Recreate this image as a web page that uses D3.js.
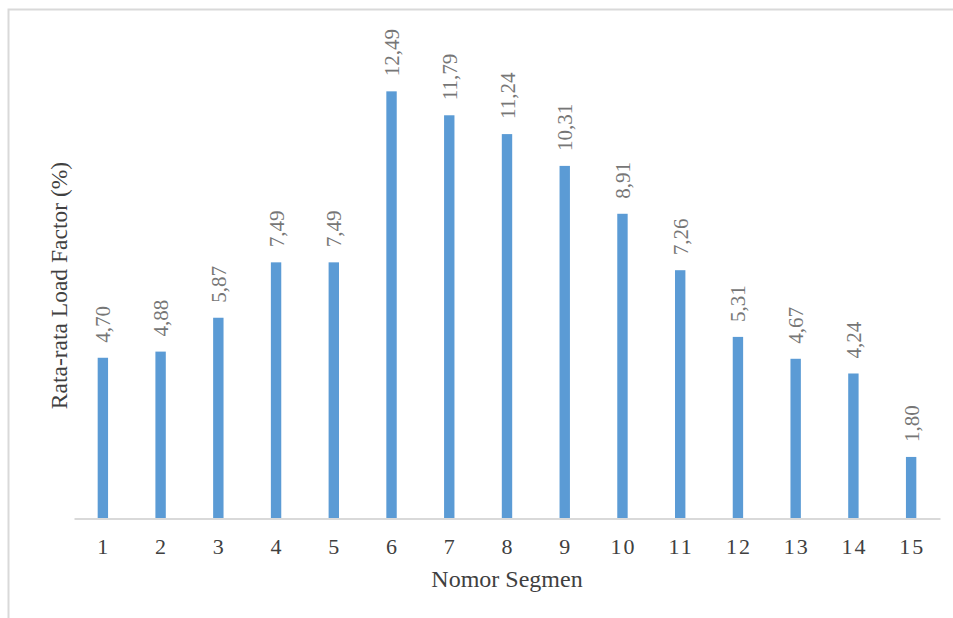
<!DOCTYPE html>
<html>
<head>
<meta charset="utf-8">
<script src="https://cdn.jsdelivr.net/npm/d3@7"></script>
<style>
  body { margin: 0; background: #fff; }
  text { font-family: "Liberation Serif", "Times New Roman", serif; }
</style>
</head>
<body>
<div id="chart"></div>
<script>
const segments = ['1', '2', '3', '4', '5', '6', '7', '8', '9', '10', '11', '12', '13', '14', '15'];
const loadFactor = [4.70, 4.88, 5.87, 7.49, 7.49, 12.49, 11.79, 11.24, 10.31, 8.91, 7.26, 5.31, 4.67, 4.24, 1.80];

const width = 953, height = 618;

const svg = d3.select('#chart').append('svg')
  .attr('width', width)
  .attr('height', height);

// chart frame (only top and left visible, picture is cropped)
svg.append('path')
  .attr('d', 'M8.5,' + height + ' V9.5 H' + width)
  .attr('fill', 'none')
  .attr('stroke', '#d9d9d9')
  .attr('stroke-width', 2);

const x = d3.scaleBand()
  .domain(segments)
  .range([74, 940])
  .paddingInner(0.82)
  .paddingOuter(0.41);

const y = d3.scaleLinear()
  .domain([0, 14])
  .range([518.5, 518.5 - 14 * 34.2]);

svg.append('g')
  .selectAll('rect')
  .data(loadFactor)
  .join('rect')
  .attr('x', (d, i) => x(segments[i]))
  .attr('y', d => y(d))
  .attr('width', x.bandwidth())
  .attr('height', d => y(0) - y(d))
  .attr('fill', '#5b9bd5');

// value labels, rotated
svg.append('g')
  .selectAll('text')
  .data(loadFactor)
  .join('text')
  .attr('transform', (d, i) => 'translate(' + (x(segments[i]) + x.bandwidth() / 2 + 7.5) + ',' + (y(d) - 15) + ') rotate(-90)')
  .attr('font-size', 21)
  .attr('fill', '#767676')
  .text(d => d.toFixed(2).replace('.', ','));

// x axis
const xAxis = svg.append('g')
  .attr('transform', 'translate(0,' + y(0) + ')')
  .call(d3.axisBottom(x).tickSize(0).tickPadding(0));
xAxis.select('.domain').attr('stroke', '#d9d9d9').attr('stroke-width', 2);
xAxis.selectAll('text')
  .attr('font-family', '"Liberation Serif", serif')
  .attr('font-size', 22)
  .attr('letter-spacing', d => d.length > 1 ? 2 : 0)
  .attr('dx', d => d.length > 1 ? 1 : 0)
  .attr('dy', null)
  .attr('y', 35)
  .attr('fill', '#404040');

svg.append('text')
  .attr('x', 507)
  .attr('y', 587)
  .attr('text-anchor', 'middle')
  .attr('font-size', 24)
  .attr('fill', '#404040')
  .text('Nomor Segmen');

svg.append('text')
  .attr('transform', 'translate(67,285.5) rotate(-90)')
  .attr('text-anchor', 'middle')
  .attr('font-size', 23.5)
  .attr('fill', '#404040')
  .text('Rata-rata Load Factor (%)');
</script>
</body>
</html>
